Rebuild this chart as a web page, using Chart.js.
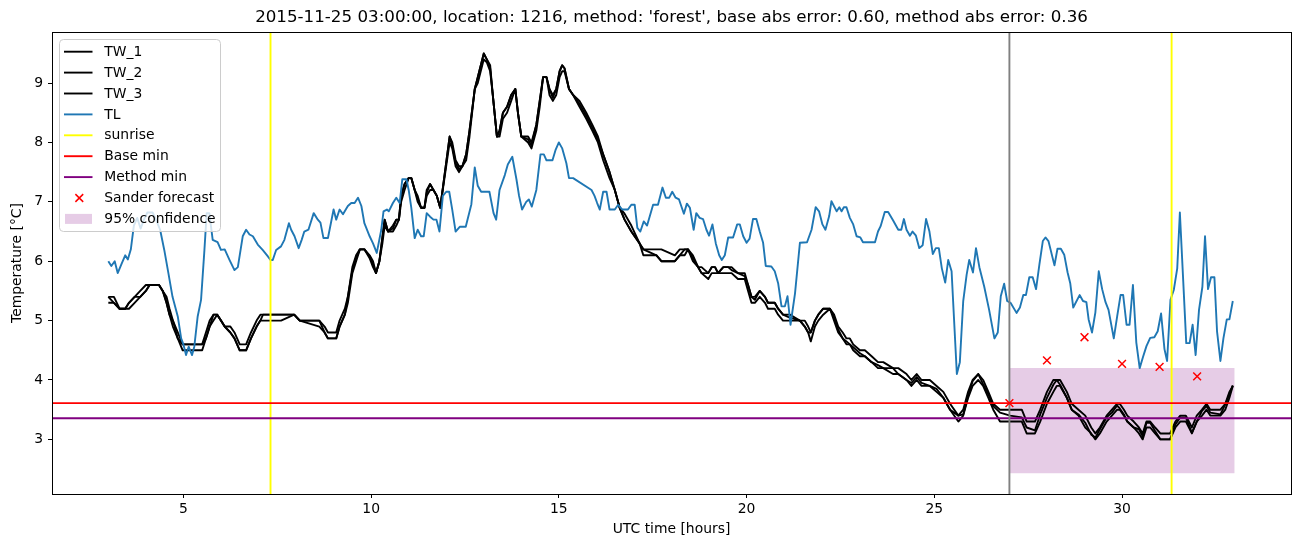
<!DOCTYPE html>
<html><head><meta charset="utf-8">
<script src="https://cdn.jsdelivr.net/npm/chart.js@4"></script>
<style>html,body{margin:0;padding:0;background:#fff}#wrap{width:1302px;height:547px;position:relative}</style>
</head><body><div id="wrap"><canvas id="c" width="1302" height="547"></canvas></div>
<script>
const titleText = "2015-11-25 03:00:00, location: 1216, method: 'forest', base abs error: 0.60, method abs error: 0.36";
const xLabel = "UTC time [hours]";
const yLabel = "Temperature [°C]";

const tlHours = [3.0,3.08,3.17,3.25,3.35,3.45,3.52,3.6,3.68,3.77,3.86,3.95,4.04,4.18,4.27,4.38,4.49,4.6,4.71,4.85,4.94,5.0,5.07,5.14,5.23,5.29,5.38,5.47,5.56,5.62,5.69,5.78,5.91,6.0,6.1,6.23,6.36,6.45,6.58,6.67,6.76,6.85,6.98,7.11,7.25,7.32,7.38,7.47,7.6,7.69,7.81,7.87,7.96,8.07,8.15,8.22,8.33,8.47,8.58,8.65,8.73,8.85,9.0,9.07,9.16,9.25,9.38,9.47,9.56,9.65,9.74,9.82,9.96,10.05,10.15,10.27,10.33,10.42,10.47,10.58,10.67,10.76,10.83,10.94,11.0,11.07,11.16,11.24,11.33,11.4,11.48,11.57,11.66,11.74,11.82,11.91,12.0,12.08,12.16,12.25,12.36,12.52,12.67,12.76,12.84,12.93,13.15,13.26,13.33,13.42,13.56,13.64,13.76,13.87,13.94,14.02,14.13,14.2,14.28,14.4,14.51,14.6,14.67,14.83,14.91,15.0,15.09,15.2,15.27,15.38,15.87,15.95,16.02,16.09,16.18,16.27,16.35,16.49,16.58,16.69,16.84,16.93,17.02,17.09,17.17,17.26,17.35,17.51,17.64,17.76,17.85,17.94,18.02,18.11,18.2,18.33,18.41,18.49,18.59,18.66,18.75,18.84,18.93,19.0,19.09,19.18,19.27,19.34,19.42,19.51,19.64,19.75,19.82,19.91,20.0,20.08,20.17,20.26,20.35,20.44,20.51,20.66,20.75,20.84,20.93,21.02,21.09,21.17,21.29,21.42,21.61,21.73,21.84,21.93,22.02,22.1,22.2,22.26,22.4,22.47,22.53,22.59,22.66,22.75,22.84,22.93,23.03,23.1,23.42,23.5,23.57,23.68,23.77,23.9,24.04,24.12,24.19,24.26,24.35,24.42,24.51,24.6,24.69,24.78,24.87,24.96,25.04,25.12,25.2,25.29,25.37,25.46,25.6,25.68,25.77,25.86,25.93,26.03,26.11,26.2,26.33,26.46,26.6,26.69,26.77,26.86,26.94,27.03,27.19,27.28,27.37,27.44,27.53,27.62,27.71,27.8,27.89,27.96,28.04,28.2,28.28,28.37,28.46,28.55,28.62,28.7,28.87,28.96,29.05,29.11,29.2,29.29,29.38,29.47,29.56,29.64,29.78,29.87,29.96,30.03,30.12,30.2,30.29,30.38,30.47,30.56,30.65,30.75,30.86,30.95,31.04,31.13,31.2,31.29,31.38,31.47,31.54,31.63,31.71,31.8,31.88,31.96,32.05,32.14,32.21,32.29,32.37,32.46,32.53,32.62,32.7,32.79,32.86,32.95];
const tlValues = [6.0,5.92,6.0,5.8,5.95,6.1,6.03,6.2,6.6,6.73,6.55,6.7,6.82,6.82,6.7,6.53,6.19,5.8,5.4,5.07,4.7,4.6,4.42,4.56,4.42,4.56,5.07,5.35,6.19,6.81,6.81,6.36,6.32,6.19,6.2,6.02,5.85,5.9,6.42,6.53,6.45,6.42,6.28,6.19,6.08,6.02,6.02,6.19,6.25,6.36,6.64,6.53,6.42,6.22,6.36,6.5,6.53,6.81,6.7,6.65,6.39,6.39,6.87,6.7,6.87,6.79,6.93,6.98,6.98,7.07,6.93,6.64,6.42,6.3,6.14,6.53,6.84,6.87,6.84,6.98,7.07,6.98,7.38,7.38,7.2,6.9,6.39,6.53,6.42,6.42,6.81,6.75,6.7,6.7,6.5,7.1,7.17,7.17,6.87,6.5,6.58,6.58,6.96,7.58,7.27,7.17,7.17,6.81,6.7,7.2,7.45,7.63,7.76,7.38,7.1,6.87,7.0,7.04,6.92,7.2,7.8,7.8,7.7,7.7,7.87,8.0,7.9,7.65,7.4,7.4,7.2,7.1,6.98,6.87,7.17,7.17,6.87,6.87,6.95,6.87,6.87,6.95,6.95,6.56,6.5,6.67,6.6,6.95,6.95,7.24,7.07,7.07,7.17,7.07,7.04,6.8,6.97,6.9,6.53,6.81,6.73,6.71,6.53,6.43,6.62,6.3,6.1,6.02,6.1,6.4,6.4,6.62,6.62,6.42,6.31,6.38,6.71,6.71,6.5,6.31,5.92,5.91,5.83,5.63,5.24,5.24,5.41,4.93,5.46,6.31,6.32,6.53,6.91,6.84,6.62,6.53,6.76,7.01,6.84,6.91,6.84,6.91,6.91,6.73,6.62,6.42,6.4,6.32,6.32,6.5,6.59,6.83,6.83,6.69,6.53,6.53,6.71,6.53,6.43,6.5,6.43,6.22,6.27,6.71,6.5,6.12,6.22,6.22,5.88,5.64,6.02,5.83,4.1,4.3,5.33,5.77,6.02,5.81,6.22,5.9,5.57,5.18,4.7,4.8,5.41,5.62,5.33,5.3,5.13,5.22,5.43,5.43,5.73,5.73,5.53,5.95,6.34,6.4,6.34,5.93,6.21,6.21,6.11,5.81,5.63,5.22,5.43,5.33,5.31,5.02,4.8,5.14,5.83,5.53,5.31,5.18,4.7,5.07,5.43,5.43,4.93,4.93,5.6,4.63,4.2,4.39,4.57,4.71,4.72,4.82,5.12,4.52,4.32,5.35,5.52,5.88,6.82,5.66,4.62,4.62,4.93,4.42,5.18,5.57,6.42,5.53,5.73,5.73,4.82,4.32,4.7,5.02,5.02,5.33];

const twHours = [3.0,3.15,3.3,3.45,3.55,3.7,3.85,4.0,4.1,4.35,4.45,4.55,4.63,4.72,4.85,4.98,5.5,5.6,5.7,5.8,5.9,6.0,6.1,6.25,6.36,6.5,6.67,6.8,6.95,7.05,7.12,7.6,7.95,8.1,8.62,8.76,8.85,9.07,9.16,9.3,9.38,9.5,9.6,9.7,9.82,9.96,10.05,10.13,10.22,10.3,10.36,10.45,10.58,10.67,10.74,10.8,10.89,11.0,11.07,11.16,11.24,11.33,11.42,11.48,11.57,11.66,11.75,11.84,12.09,12.16,12.25,12.34,12.43,12.53,12.62,12.76,12.84,13.0,13.08,13.17,13.24,13.35,13.42,13.51,13.62,13.73,13.84,13.91,14.0,14.18,14.27,14.4,14.49,14.58,14.67,14.75,14.84,14.93,15.02,15.09,15.15,15.27,15.38,15.55,15.73,15.89,16.04,16.18,16.35,16.49,16.62,16.75,16.93,17.15,17.25,17.6,17.73,18.09,18.22,18.35,18.44,18.57,18.71,18.8,18.98,19.07,19.16,19.24,19.38,19.51,19.6,19.77,19.95,20.04,20.13,20.22,20.35,20.49,20.57,20.75,20.84,20.97,21.15,21.42,21.55,21.64,21.71,21.82,21.91,22.04,22.22,22.33,22.44,22.56,22.66,22.75,22.84,23.02,23.15,23.33,23.5,23.64,23.9,24.04,24.26,24.39,24.53,24.66,24.88,25.06,25.24,25.42,25.64,25.77,25.9,26.02,26.17,26.3,26.44,26.57,26.75,27.02,27.33,27.46,27.68,27.82,28.0,28.17,28.26,28.35,28.53,28.66,28.84,29.02,29.18,29.29,29.41,29.59,29.73,29.87,29.94,30.05,30.14,30.31,30.45,30.55,30.65,30.75,30.88,31.02,31.28,31.42,31.55,31.7,31.86,31.99,32.13,32.25,32.35,32.62,32.75,32.86,32.95];
const tw1 = [5.4,5.4,5.2,5.2,5.3,5.4,5.5,5.6,5.6,5.6,5.5,5.4,5.2,5.0,4.8,4.6,4.6,4.8,5.0,5.1,5.1,5.0,4.9,4.9,4.8,4.6,4.6,4.8,5.0,5.1,5.1,5.1,5.1,5.0,5.0,4.9,4.8,4.8,5.0,5.2,5.4,5.9,6.1,6.2,6.2,6.1,6.0,5.8,6.0,6.4,6.7,6.5,6.6,6.7,6.7,7.1,7.3,7.4,7.4,7.2,7.1,6.9,6.9,7.2,7.3,7.2,7.1,6.9,8.1,8.0,7.7,7.6,7.6,7.8,8.2,8.9,9.1,9.5,9.4,9.3,8.8,8.1,8.2,8.5,8.6,8.8,8.9,8.5,8.1,8.1,8.0,8.3,8.7,9.1,9.1,8.9,8.8,8.9,9.2,9.3,9.25,8.9,8.8,8.7,8.5,8.3,8.1,7.8,7.5,7.2,6.9,6.8,6.6,6.3,6.2,6.2,6.2,6.1,6.2,6.2,6.2,6.1,5.9,5.9,5.8,5.9,5.9,5.8,5.9,5.9,5.9,5.8,5.8,5.6,5.4,5.4,5.5,5.4,5.3,5.3,5.2,5.1,5.1,5.0,5.0,4.9,4.8,5.0,5.1,5.2,5.2,5.1,4.9,4.8,4.7,4.7,4.6,4.5,4.5,4.4,4.3,4.3,4.2,4.2,4.1,4.0,4.1,4.0,4.0,3.9,3.8,3.6,3.4,3.5,3.8,4.0,4.1,4.0,3.8,3.6,3.5,3.5,3.5,3.3,3.3,3.5,3.8,4.0,4.0,4.0,3.8,3.6,3.5,3.4,3.2,3.1,3.2,3.4,3.5,3.6,3.6,3.5,3.4,3.3,3.2,3.1,3.3,3.3,3.2,3.1,3.1,3.3,3.4,3.4,3.2,3.4,3.5,3.6,3.5,3.5,3.6,3.8,3.9];
const tw2 = [5.4,5.3,5.2,5.2,5.3,5.4,5.4,5.5,5.6,5.6,5.5,5.3,5.1,5.0,4.7,4.6,4.6,4.7,4.9,5.1,5.1,5.0,4.9,4.8,4.7,4.5,4.5,4.7,4.9,5.0,5.1,5.1,5.1,5.0,5.0,4.8,4.7,4.7,4.9,5.1,5.4,5.85,6.05,6.2,6.2,6.08,5.95,5.8,6.0,6.4,6.7,6.5,6.55,6.7,6.7,7.1,7.3,7.4,7.4,7.2,7.05,6.9,6.9,7.15,7.3,7.2,7.1,6.9,8.1,7.95,7.65,7.55,7.6,7.8,8.2,8.9,9.1,9.5,9.4,9.25,8.8,8.1,8.2,8.5,8.6,8.8,8.9,8.5,8.1,8.05,7.95,8.3,8.7,9.1,9.1,8.9,8.75,8.9,9.2,9.3,9.25,8.9,8.8,8.65,8.45,8.25,8.05,7.8,7.5,7.2,6.9,6.7,6.5,6.3,6.2,6.1,6.0,6.0,6.1,6.2,6.2,6.05,5.9,5.8,5.8,5.9,5.9,5.8,5.9,5.9,5.85,5.8,5.75,5.6,5.4,5.35,5.5,5.4,5.3,5.3,5.2,5.1,5.05,5.0,4.9,4.8,4.8,5.0,5.1,5.2,5.2,5.05,4.85,4.7,4.65,4.6,4.55,4.45,4.4,4.3,4.25,4.2,4.2,4.1,4.0,3.95,4.05,3.95,3.9,3.85,3.7,3.5,3.4,3.42,3.73,3.98,4.1,3.93,3.76,3.56,3.45,3.4,3.37,3.2,3.15,3.42,3.7,3.92,4.0,3.92,3.7,3.5,3.42,3.28,3.08,3.03,3.17,3.37,3.45,3.57,3.52,3.42,3.3,3.2,3.17,3.05,3.28,3.28,3.14,3.0,3.0,3.25,3.37,3.37,3.11,3.3,3.48,3.56,3.45,3.42,3.59,3.76,3.91];
const tw3 = [5.3,5.3,5.2,5.2,5.2,5.3,5.4,5.5,5.6,5.6,5.5,5.3,5.1,4.9,4.7,4.5,4.5,4.7,4.9,5.0,5.1,5.0,4.9,4.8,4.7,4.5,4.5,4.7,4.9,5.0,5.0,5.0,5.1,5.0,4.9,4.8,4.7,4.7,4.9,5.1,5.3,5.8,6.0,6.2,6.2,6.05,5.9,5.8,6.0,6.3,6.6,6.5,6.5,6.6,6.7,7.0,7.2,7.4,7.4,7.2,7.0,6.9,6.9,7.1,7.2,7.2,7.1,6.9,8.0,7.9,7.6,7.5,7.6,7.7,8.1,8.9,9.0,9.4,9.35,9.2,8.8,8.1,8.1,8.4,8.5,8.7,8.9,8.5,8.1,8.0,7.9,8.2,8.6,9.1,9.1,8.8,8.7,8.8,9.1,9.2,9.2,8.9,8.8,8.6,8.4,8.2,8.0,7.7,7.4,7.2,6.9,6.7,6.5,6.3,6.1,6.1,6.0,6.0,6.1,6.1,6.2,6.0,5.9,5.8,5.7,5.8,5.8,5.8,5.8,5.8,5.8,5.7,5.7,5.5,5.3,5.3,5.4,5.3,5.2,5.2,5.1,5.0,5.0,5.0,4.9,4.8,4.65,4.9,5.0,5.1,5.2,5.0,4.8,4.7,4.6,4.6,4.5,4.4,4.4,4.3,4.2,4.2,4.1,4.1,4.0,3.9,4.0,3.9,3.9,3.8,3.7,3.5,3.3,3.4,3.7,3.9,4.0,3.9,3.7,3.5,3.3,3.3,3.3,3.1,3.1,3.3,3.6,3.8,3.9,3.9,3.7,3.5,3.4,3.2,3.1,3.0,3.1,3.3,3.4,3.5,3.5,3.4,3.3,3.2,3.1,3.0,3.2,3.2,3.1,3.0,3.0,3.2,3.3,3.3,3.1,3.3,3.4,3.5,3.4,3.4,3.5,3.7,3.9];

const forecastHours = [27, 28, 29, 30, 31, 32];
const forecastValues = [3.61, 4.33, 4.72, 4.27, 4.22, 4.06];
const sunriseHours = [7.32, 31.32];
const baseMin = 3.61;
const methodMin = 3.355;
const nowHour = 27;
const confidenceHours = [27, 33];
const confidenceLow = 2.43;
const confidenceHigh = 4.2;
const xTicks = [5, 10, 15, 20, 25, 30];
const yTicks = [3, 4, 5, 6, 7, 8, 9];
const xRange = [1.5, 34.5];
const yRange = [2.08, 9.86];

const FONT = "'DejaVu Sans', sans-serif";
const FS = 13.9;
const LW = 1.9;
const pts = (xs, ys) => xs.map((x, i) => ({x: x, y: ys[i]}));

const lineDs = (label, data, color, order, extra) => Object.assign({
  type: 'line', label: label, data: data, borderColor: color, backgroundColor: color,
  borderWidth: LW, pointRadius: 0, tension: 0, fill: false, order: order,
  borderJoinStyle: 'round', borderCapStyle: 'butt'
}, extra || {});

const datasets = [
  lineDs('95% confidence', pts(confidenceHours, confidenceHours.map(() => confidenceHigh)), 'rgba(0,0,0,0)', 20,
    {fill: {value: confidenceLow}, backgroundColor: 'rgba(128,0,128,0.2)', borderWidth: 0}),
  lineDs('TW_1', pts(twHours, tw1), '#000000', 19),
  lineDs('TW_2', pts(twHours, tw2), '#000000', 18),
  lineDs('TW_3', pts(twHours, tw3), '#000000', 17),
  lineDs('TL', pts(tlHours, tlValues), '#1f77b4', 16),
  lineDs('sunrise', [{x: sunriseHours[0], y: yRange[0]}, {x: sunriseHours[0], y: yRange[1]}], '#ffff00', 15),
  lineDs('sunrise2', [{x: sunriseHours[1], y: yRange[0]}, {x: sunriseHours[1], y: yRange[1]}], '#ffff00', 14),
  lineDs('Base min', [{x: xRange[0], y: baseMin}, {x: xRange[1], y: baseMin}], '#ff0000', 13),
  lineDs('Method min', [{x: xRange[0], y: methodMin}, {x: xRange[1], y: methodMin}], '#800080', 12),
  lineDs('now', [{x: nowHour, y: yRange[0]}, {x: nowHour, y: yRange[1]}], '#808080', 11),
  {type: 'scatter', label: 'Sander forecast', data: pts(forecastHours, forecastValues), showLine: false,
   pointStyle: 'crossRot', pointRadius: 5.5, pointHoverRadius: 5.5, pointBorderWidth: 1.5, borderWidth: 1.5,
   borderColor: '#ff0000', backgroundColor: '#ff0000', order: 10}
];

const legendItems = [
  {label: 'TW_1', kind: 'line', color: '#000000'},
  {label: 'TW_2', kind: 'line', color: '#000000'},
  {label: 'TW_3', kind: 'line', color: '#000000'},
  {label: 'TL', kind: 'line', color: '#1f77b4'},
  {label: 'sunrise', kind: 'line', color: '#ffff00'},
  {label: 'Base min', kind: 'line', color: '#ff0000'},
  {label: 'Method min', kind: 'line', color: '#800080'},
  {label: 'Sander forecast', kind: 'cross', color: '#ff0000'},
  {label: '95% confidence', kind: 'patch', color: 'rgba(128,0,128,0.2)'}
];

const decor = {
  id: 'decor',
  afterDraw(chart) {
    const ctx = chart.ctx, a = chart.chartArea;
    ctx.save();
    ctx.strokeStyle = '#000'; ctx.lineWidth = 1;
    ctx.strokeRect(Math.round(a.left) + 0.5, Math.round(a.top) + 0.5, Math.round(a.right - a.left), Math.round(a.bottom - a.top));
    ctx.fillStyle = '#000'; ctx.font = '16.7px ' + FONT; ctx.textAlign = 'center'; ctx.textBaseline = 'middle';
    ctx.fillText(titleText, (a.left + a.right) / 2, 18);
    const lx = 59.5, ly = 39.5, lw = 161, lh = 192, r = 4;
    ctx.beginPath();
    ctx.moveTo(lx + r, ly); ctx.lineTo(lx + lw - r, ly); ctx.arcTo(lx + lw, ly, lx + lw, ly + r, r);
    ctx.lineTo(lx + lw, ly + lh - r); ctx.arcTo(lx + lw, ly + lh, lx + lw - r, ly + lh, r);
    ctx.lineTo(lx + r, ly + lh); ctx.arcTo(lx, ly + lh, lx, ly + lh - r, r);
    ctx.lineTo(lx, ly + r); ctx.arcTo(lx, ly, lx + r, ly, r); ctx.closePath();
    ctx.fillStyle = 'rgba(255,255,255,0.8)'; ctx.fill();
    ctx.strokeStyle = '#cccccc'; ctx.lineWidth = 1; ctx.stroke();
    legendItems.forEach((it, i) => {
      const y = 51.7 + i * 20.9;
      if (it.kind === 'line') {
        ctx.beginPath(); ctx.moveTo(64, y); ctx.lineTo(92.5, y);
        ctx.strokeStyle = it.color; ctx.lineWidth = LW; ctx.stroke();
      } else if (it.kind === 'cross') {
        const d = 3.9, cx = 79.3;
        ctx.beginPath(); ctx.moveTo(cx - d, y - d); ctx.lineTo(cx + d, y + d);
        ctx.moveTo(cx - d, y + d); ctx.lineTo(cx + d, y - d);
        ctx.strokeStyle = it.color; ctx.lineWidth = 1.5; ctx.stroke();
      } else {
        ctx.fillStyle = it.color; ctx.fillRect(65, y - 5, 27, 10);
      }
      ctx.fillStyle = '#000'; ctx.font = FS + 'px ' + FONT; ctx.textAlign = 'left'; ctx.textBaseline = 'middle';
      ctx.fillText(it.label, 104.3, y + 0.5);
    });
    ctx.restore();
  }
};

new Chart(document.getElementById('c'), {
  data: {datasets: datasets},
  options: {
    responsive: false, animation: false, devicePixelRatio: 1,
    layout: {padding: {top: 32, right: 11, left: 0, bottom: 0}},
    plugins: {legend: {display: false}, title: {display: false}, tooltip: {enabled: false}},
    scales: {
      x: {
        type: 'linear', position: 'bottom', min: xRange[0], max: xRange[1],
        afterBuildTicks: s => { s.ticks = xTicks.map(v => ({value: v})); },
        afterFit: s => { s.height = 53; },
        grid: {display: true, drawOnChartArea: false, drawTicks: true, tickLength: 4, tickColor: '#000', tickWidth: 1},
        border: {display: false},
        ticks: {color: '#000', font: {family: FONT, size: FS}, padding: 3, maxRotation: 0, autoSkip: false},
        title: {display: true, text: xLabel, color: '#000', font: {family: FONT, size: FS}, padding: {top: 0, bottom: 9}}
      },
      y: {
        type: 'linear', position: 'left', min: yRange[0], max: yRange[1],
        afterBuildTicks: s => { s.ticks = yTicks.map(v => ({value: v})); },
        afterFit: s => { s.width = 52; },
        grid: {display: true, drawOnChartArea: false, drawTicks: true, tickLength: 4, tickColor: '#000', tickWidth: 1},
        border: {display: false},
        ticks: {color: '#000', font: {family: FONT, size: FS}, padding: 5, autoSkip: false},
        title: {display: true, text: yLabel, color: '#000', font: {family: FONT, size: FS}, padding: {top: 9.5, bottom: 0}}
      }
    }
  },
  plugins: [decor]
});
</script>
</body></html>
